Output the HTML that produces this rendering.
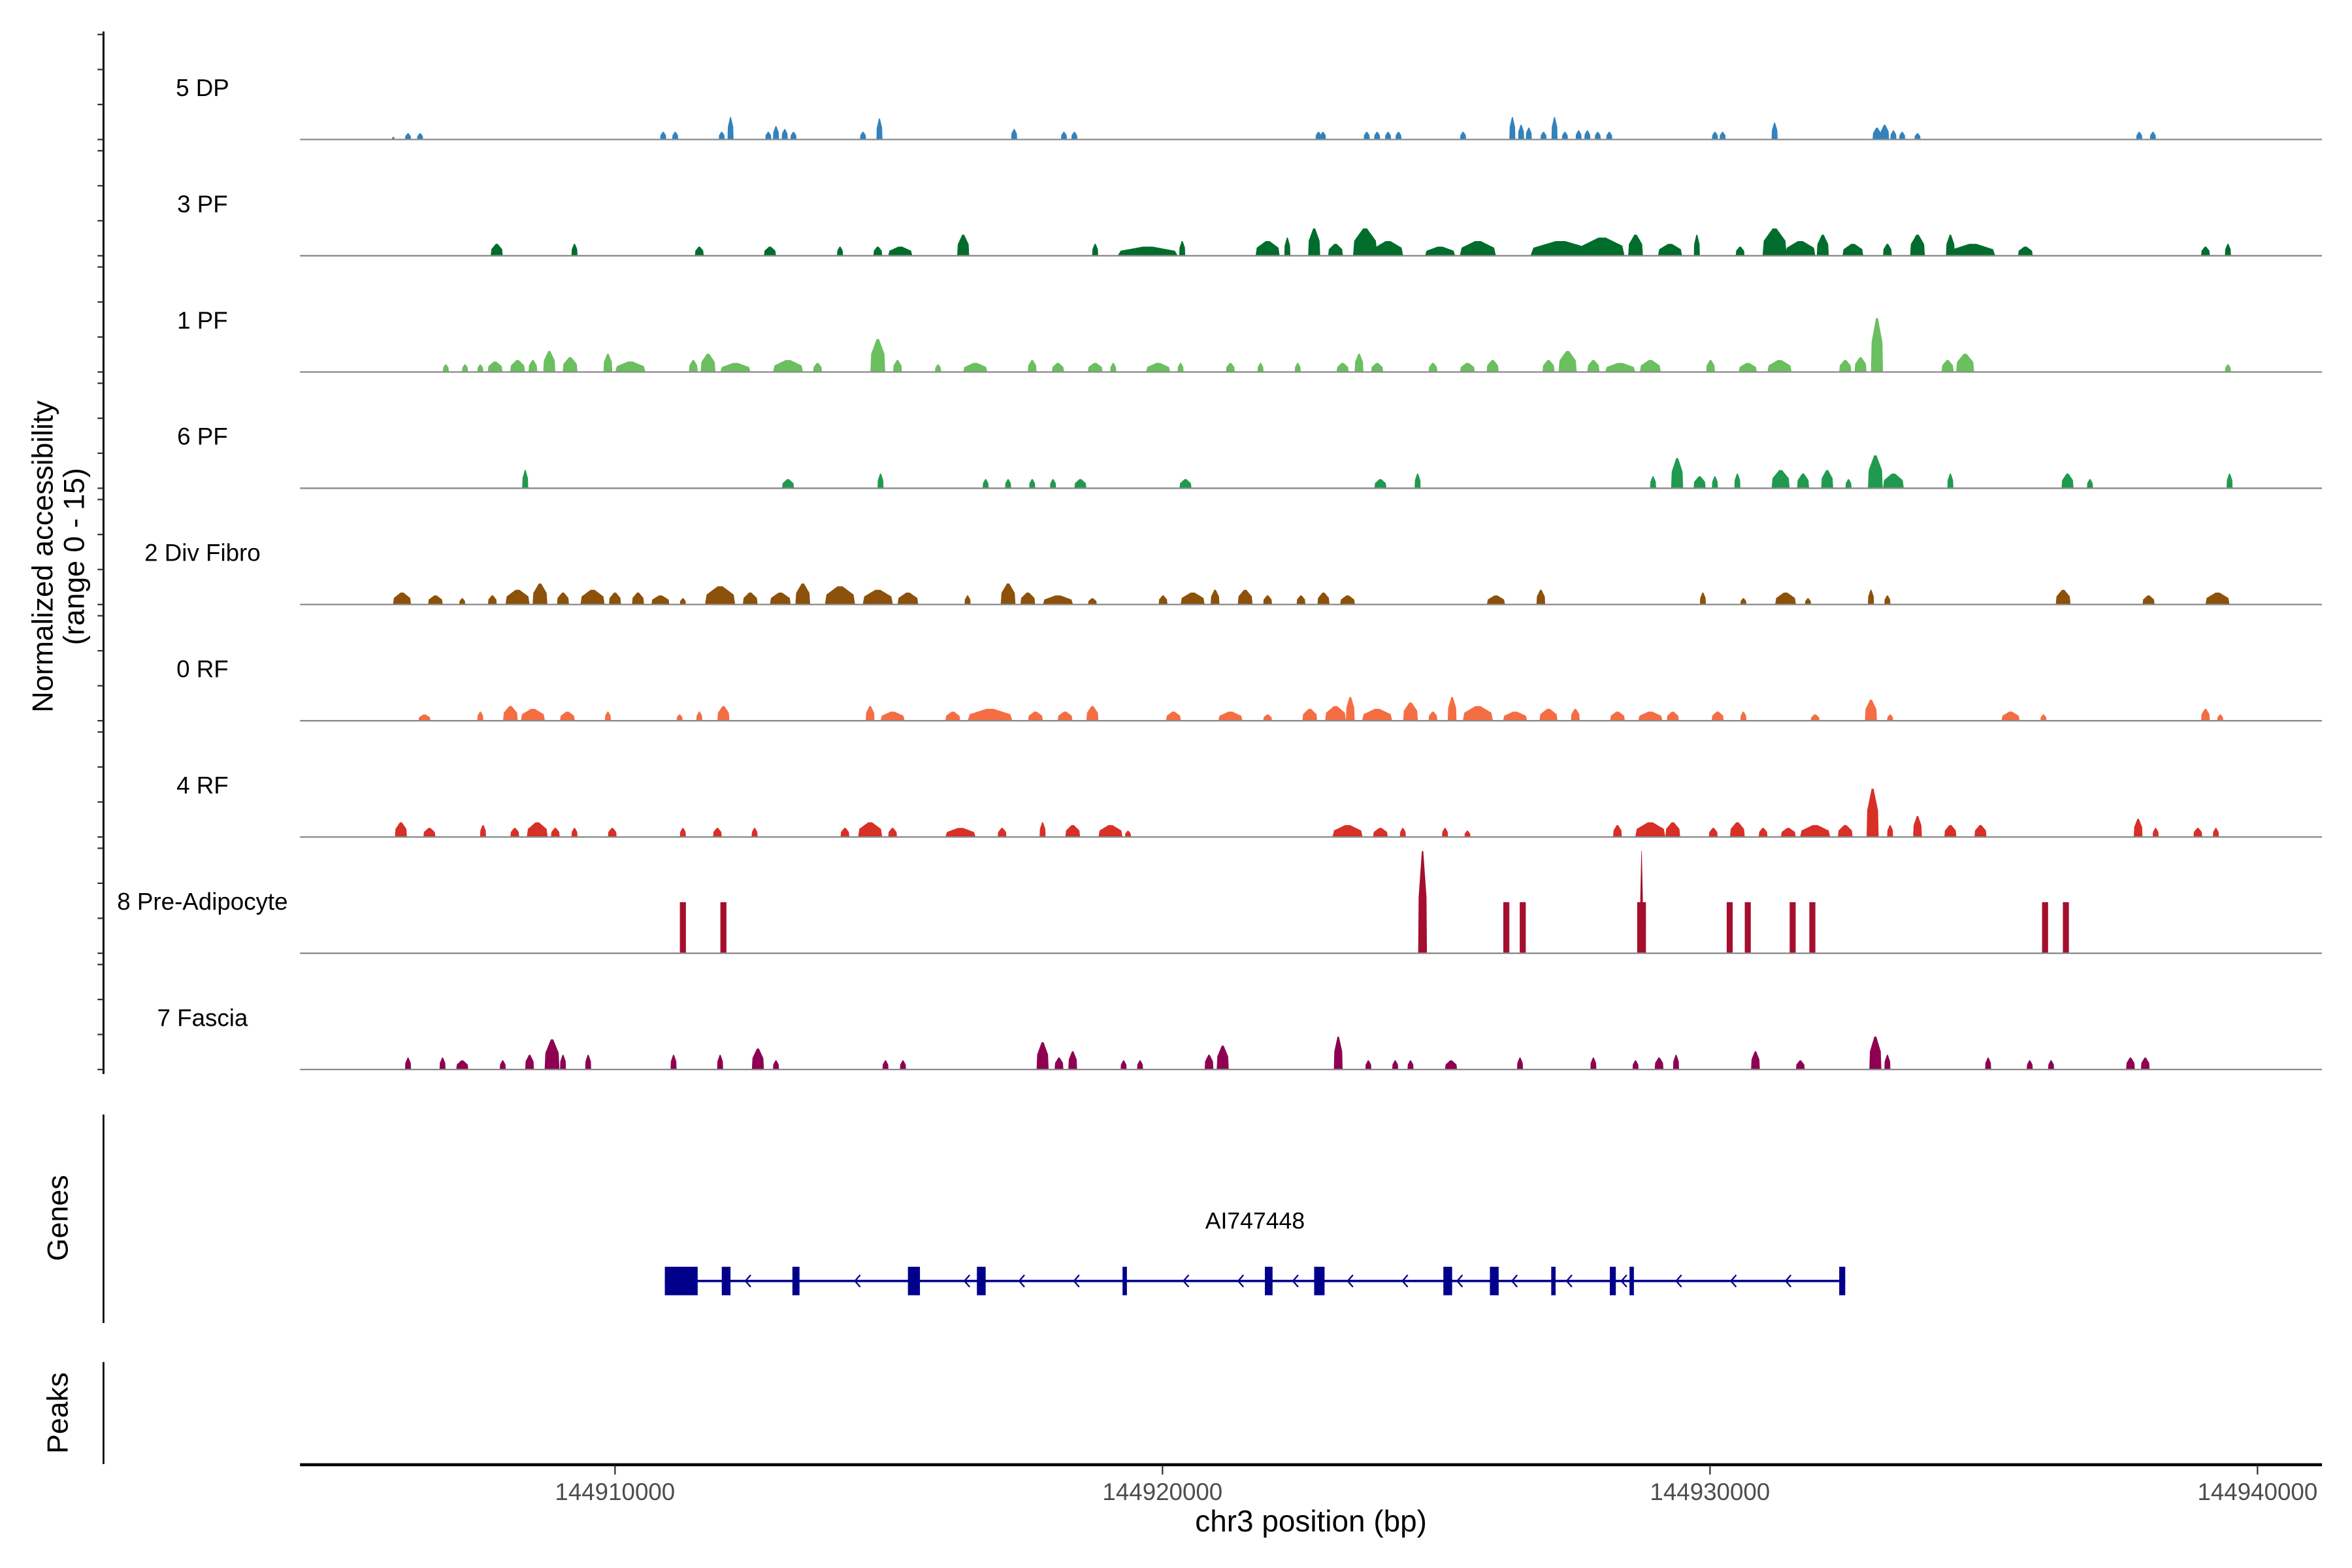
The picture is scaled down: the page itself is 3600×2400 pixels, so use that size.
<!DOCTYPE html>
<html><head><meta charset="utf-8">
<style>
html,body{margin:0;padding:0;background:#fff;}
svg{display:block;}
text{font-family:"Liberation Sans",Arial,sans-serif;}
</style></head>
<body>
<svg id="chart" xmlns="http://www.w3.org/2000/svg" width="3600" height="2400" viewBox="0 0 1568 1045.33" preserveAspectRatio="none">
  <rect x="0" y="0" width="1568" height="1046" fill="#fff"/>
  <g id="tracks"></g>
  <g id="yaxis"></g>
  <text transform="translate(35,371) rotate(-90)" text-anchor="middle" font-size="19.5" fill="#000">Normalized accessibility</text>
  <text transform="translate(56,371) rotate(-90)" text-anchor="middle" font-size="19.5" fill="#000">(range 0 - 15)</text>
  <line x1="69" y1="743" x2="69" y2="882" stroke="#000" stroke-width="1.2"/>
  <text transform="translate(45,812) rotate(-90)" text-anchor="middle" font-size="19.5" fill="#000">Genes</text>
  <line x1="69" y1="908" x2="69" y2="976" stroke="#000" stroke-width="1.2"/>
  <text transform="translate(45,942) rotate(-90)" text-anchor="middle" font-size="19.5" fill="#000">Peaks</text>
  <g id="genes"></g>
  <g id="xaxis"></g>
  <text x="874" y="1021" text-anchor="middle" font-size="20" fill="#000">chr3 position (bp)</text>
</svg>
<script>
// ---- data (positions in kb on chr3, values in normalized accessibility 0-15) ----
const trackNames = ["5 DP","3 PF","1 PF","6 PF","2 Div Fibro","0 RF","4 RF","8 Pre-Adipocyte","7 Fascia"];
const trackColors = ["#3182bd","#006d2c","#6abf5e","#1f9a4f","#8c510a","#f46d43","#d73027","#a50f2d","#8e0152"];

const pos5DP = [144905.95,144906.22,144906.44,144910.88,144911.10,144911.95,144912.11,144912.80,144912.94,144913.10,144913.26,144914.53,144914.83,144917.29,144918.20,144918.39,144922.85,144922.93,144923.73,144923.92,144924.12,144924.31,144925.49,144926.39,144926.55,144926.69,144926.96,144927.16,144927.35,144927.60,144927.76,144927.95,144928.16,144930.09,144930.23,144931.18,144933.05,144933.19,144933.35,144933.51,144933.79,144937.84,144938.09];
const wid5DP = [.05,.11,.11,.11,.11,.11,.11,.11,.11,.11,.11,.11,.11,.11,.11,.11,.11,.11,.11,.11,.11,.11,.11,.11,.11,.11,.11,.11,.11,.11,.11,.11,.11,.11,.11,.11,.16,.16,.11,.11,.11,.11,.11];
const val5DP = [0.4,0.9,0.9,1.1,1.1,1.1,3.2,1.1,1.9,1.5,1.1,1.1,3.0,1.5,1.1,1.1,1.1,1.1,1.1,1.1,1.1,1.1,1.1,3.2,2.1,1.7,1.1,3.2,1.1,1.3,1.3,1.1,1.1,1.1,1.1,2.4,1.7,2.1,1.3,1.1,0.9,1.1,1.1];

const pos3PF = [144907.84,144909.26,144911.54,144912.83,144914.11,144914.80,144915.21,144916.36,144918.77,144919.73,144920.36,144921.92,144922.28,144922.77,144923.16,144923.70,144924.12,144925.07,144925.76,144927.27,144928.03,144928.64,144929.27,144929.76,144930.55,144931.18,144931.65,144932.06,144932.61,144933.24,144933.79,144934.39,144934.80,144935.76,144939.05,144939.46];
const wid3PF = [.22,.11,.16,.22,.11,.16,.44,.22,.11,1.10,.11,.44,.11,.22,.27,.44,.55,.55,.66,1.10,.82,.27,.44,.11,.16,.44,.55,.22,.38,.16,.27,.16,.82,.27,.16,.11];
const val3PF = [1.7,1.7,1.3,1.3,1.3,1.3,1.3,3.0,1.7,1.3,2.1,2.1,2.6,3.9,1.7,3.9,2.1,1.3,2.1,2.1,2.6,3.0,1.7,3.0,1.3,3.9,2.1,3.0,1.7,1.7,3.0,3.0,1.7,1.3,1.3,1.7];

const pos1PF = [144906.91,144907.26,144907.54,144907.81,144908.22,144908.50,144908.80,144909.18,144909.87,144910.28,144911.43,144911.70,144912.20,144913.16,144913.70,144914.80,144915.16,144915.90,144916.58,144917.62,144918.09,144918.77,144919.10,144919.92,144920.33,144921.24,144921.79,144922.47,144923.29,144923.59,144923.92,144924.94,144925.57,144926.03,144927.05,144927.40,144927.87,144928.36,144928.91,144930.01,144930.69,144931.27,144932.47,144932.75,144933.05,144934.34,144934.66,144939.46];
const wid1PF = [.11,.11,.11,.27,.27,.16,.22,.27,.16,.55,.16,.27,.55,.55,.16,.27,.16,.11,.44,.16,.22,.27,.11,.44,.11,.16,.11,.11,.22,.16,.22,.16,.27,.22,.22,.33,.22,.55,.38,.16,.33,.44,.22,.22,.22,.22,.33,.11];
const val1PF = [1.1,1.1,1.1,1.5,1.7,1.7,3.0,2.1,2.6,1.5,1.7,2.6,1.3,1.7,1.3,4.7,1.7,1.1,1.3,1.7,1.3,1.3,1.3,1.3,1.3,1.3,1.3,1.3,1.3,2.6,1.3,1.3,1.3,1.7,1.7,3.0,1.7,1.3,1.7,1.7,1.3,1.7,1.7,2.1,7.7,1.7,2.6,1.1];

const pos6PF = [144908.36,144913.16,144914.85,144916.77,144917.18,144917.62,144918.00,144918.50,144920.42,144923.98,144924.66,144928.96,144929.40,144929.81,144930.09,144930.50,144931.29,144931.70,144932.14,144932.53,144933.02,144933.35,144934.39,144936.53,144936.94,144939.49];
const wid6PF = [.11,.22,.11,.11,.11,.11,.11,.22,.22,.22,.11,.11,.22,.22,.11,.11,.33,.22,.22,.11,.27,.38,.11,.22,.11,.11];
const val6PF = [2.6,1.3,2.1,1.3,1.3,1.3,1.3,1.3,1.3,1.3,2.1,1.7,4.3,1.7,1.7,2.1,2.6,2.1,2.6,1.3,4.7,2.1,2.1,2.1,1.3,2.1];

const posDiv = [144906.11,144906.72,144907.21,144907.76,144908.22,144908.63,144909.05,144909.59,144910.00,144910.42,144910.83,144911.24,144911.92,144912.47,144913.02,144913.43,144914.11,144914.80,144915.35,144916.44,144917.18,144917.54,144918.09,144918.72,144920.01,144920.55,144920.96,144921.51,144921.92,144922.53,144922.94,144923.38,144926.09,144926.91,144929.87,144930.61,144931.38,144931.79,144932.94,144933.24,144936.45,144938.01,144939.27];
const widDiv = [.33,.27,.11,.16,.44,.27,.22,.44,.22,.22,.33,.11,.55,.27,.38,.27,.55,.55,.38,.11,.27,.27,.55,.16,.16,.44,.16,.27,.16,.16,.22,.27,.33,.16,.11,.11,.38,.11,.11,.11,.27,.22,.44];
const valDiv = [1.7,1.3,0.9,1.3,2.1,3.0,1.7,2.1,1.7,1.7,1.3,0.9,2.6,1.7,1.7,3.0,2.6,2.1,1.7,1.3,3.0,1.7,1.3,0.9,1.3,1.7,2.1,2.1,1.3,1.3,1.7,1.3,1.3,2.1,1.7,0.9,1.7,0.9,2.1,1.3,2.1,1.3,1.7];

const pos0RF = [144906.52,144907.54,144908.09,144908.50,144909.13,144909.87,144911.18,144911.54,144911.98,144914.66,144915.07,144916.17,144916.85,144917.68,144918.22,144918.72,144920.20,144921.24,144921.92,144922.69,144923.16,144923.43,144923.92,144924.53,144924.94,144925.29,144925.76,144926.44,144927.05,144927.54,144928.31,144928.91,144929.32,144930.14,144930.61,144931.92,144932.94,144933.29,144935.49,144936.09,144939.05,144939.32];
const wid0RF = [.22,.11,.27,.44,.27,.11,.11,.11,.22,.16,.44,.27,.82,.27,.27,.22,.27,.44,.16,.27,.38,.16,.55,.27,.16,.16,.55,.44,.33,.16,.27,.44,.22,.22,.11,.16,.22,.11,.33,.11,.16,.11];
const val0RF = [0.9,1.3,2.1,1.7,1.3,1.3,0.9,1.3,2.1,2.1,1.3,1.3,1.7,1.3,1.3,2.1,1.3,1.3,0.9,1.7,2.1,3.4,1.7,2.6,1.3,3.4,2.1,1.3,1.7,1.7,1.3,1.3,1.3,1.3,1.3,0.9,3.0,0.9,1.3,0.9,1.7,0.9];

const pos4RF = [144906.09,144906.61,144907.59,144908.17,144908.58,144908.91,144909.26,144909.95,144911.24,144911.87,144912.55,144914.20,144914.66,144915.07,144916.31,144917.07,144917.81,144918.36,144919.05,144919.37,144923.38,144923.98,144924.39,144925.16,144925.57,144928.31,144928.91,144929.32,144930.06,144930.50,144930.97,144931.43,144931.92,144932.47,144932.97,144933.29,144933.79,144934.39,144934.94,144937.82,144938.14,144938.91,144939.24];
const wid4RF = [.22,.22,.11,.16,.38,.16,.11,.16,.11,.16,.11,.16,.44,.16,.55,.16,.11,.27,.44,.11,.55,.27,.11,.11,.11,.16,.55,.27,.16,.27,.16,.27,.55,.27,.22,.11,.16,.22,.22,.16,.11,.16,.11];
const val4RF = [2.1,1.3,1.7,1.3,2.1,1.3,1.3,1.3,1.3,1.3,1.3,1.3,2.1,1.3,1.3,1.3,2.1,1.7,1.7,0.9,1.7,1.3,1.3,1.3,0.9,1.7,2.1,2.1,1.3,2.1,1.3,1.3,1.7,1.7,6.9,1.7,3.0,1.7,1.7,2.6,1.3,1.3,1.3];

const posPre = [144911.24,144911.98,144924.75,144926.28,144926.58,144928.75,144928.75,144930.36,144930.69,144931.51,144931.87,144936.12,144936.50];
const widPre = [.11,.11,.16,.11,.11,.16,.05,.11,.11,.11,.11,.11,.11];
const valPre = [7.3,7.3,14.6,7.3,7.3,7.3,14.6,7.3,7.3,7.3,7.3,7.3,7.3];

const posFas = [144906.22,144906.85,144907.21,144907.95,144908.44,144908.85,144909.05,144909.51,144911.07,144911.92,144912.61,144912.94,144914.94,144915.26,144917.81,144918.11,144918.36,144919.29,144919.59,144920.85,144921.10,144923.21,144923.76,144924.25,144924.53,144925.27,144926.53,144927.87,144928.64,144929.07,144929.38,144930.83,144931.65,144933.02,144933.24,144935.08,144935.84,144936.23,144937.68,144937.95];
const widFas = [.11,.11,.22,.11,.16,.27,.11,.11,.11,.11,.22,.11,.11,.11,.22,.16,.16,.11,.11,.16,.22,.16,.11,.11,.11,.22,.11,.11,.11,.16,.11,.16,.16,.22,.11,.11,.11,.11,.16,.16];
const valFas = [1.7,1.7,1.3,1.3,2.1,4.3,2.1,2.1,2.1,2.1,3.0,1.3,1.3,1.3,3.9,1.7,2.6,1.3,1.3,2.1,3.4,4.7,1.3,1.3,1.3,1.3,1.7,1.7,1.3,1.7,2.1,2.6,1.3,4.7,2.1,1.7,1.3,1.3,1.7,1.7];

const trackPos = [pos5DP,pos3PF,pos1PF,pos6PF,posDiv,pos0RF,pos4RF,posPre,posFas];
const trackWid = [wid5DP,wid3PF,wid1PF,wid6PF,widDiv,wid0RF,wid4RF,widPre,widFas];
const trackVal = [val5DP,val3PF,val1PF,val6PF,valDiv,val0RF,val4RF,valPre,valFas];
const flatTrack = [false,false,false,false,false,false,false,true,false];

const xTicks = [144910,144920,144930,144940];
const xTickLabels = ["144910000","144920000","144930000","144940000"];

const geneName = "AI747448";
const geneStart = 144910.91;
const geneEnd = 144932.47;
const exonStarts = [144910.91,144911.95,144913.24,144915.35,144916.61,144919.27,144921.87,144922.77,144925.13,144925.98,144927.10,144928.17,144928.53,144932.36];
const exonEnds   = [144911.51,144912.11,144913.37,144915.57,144916.77,144919.35,144922.01,144922.96,144925.29,144926.14,144927.18,144928.28,144928.61,144932.47];

// ---- scales ----
const NS = "http://www.w3.org/2000/svg";
const X0 = 200, X1 = 1548;
function xScale(kb){ return 410 + (kb - 144910) * 36.5; }
const PANEL_H = 70, PANEL_GAP = 7.5, FIRST_TOP = 23;
const YMAX = 15;
function panelTop(i){ return FIRST_TOP + i * (PANEL_H + PANEL_GAP); }
function yScale(i, v){ return panelTop(i) + PANEL_H - (v / YMAX) * PANEL_H; }
function mk(tag, attrs){ const e = document.createElementNS(NS, tag); for (const k in attrs) e.setAttribute(k, attrs[k]); return e; }

const gT = document.getElementById('tracks');
const gY = document.getElementById('yaxis');

const yl = mk('line', {x1:69, y1:panelTop(0)-2, x2:69, y2:panelTop(8)+PANEL_H+3, stroke:'#000', 'stroke-width':1.3});


gY.appendChild(yl);
for (let i = 0; i < trackNames.length; i++) {
  for (const tv of [0,5,10,15]) {
    const y = yScale(i, tv);
    const t = mk('line', {x1:65, y1:y, x2:69, y2:y, stroke:'#333', 'stroke-width':1});
    
    
    gY.appendChild(t);
  }
}

for (let i = 0; i < trackNames.length; i++) {
  const g = mk('g', {});
  
  
  gT.appendChild(g);
  const lab = mk('text', {x:135, y:panelTop(i)+41, 'text-anchor':'middle', 'font-size':16, fill:'#000'});
  lab.textContent = trackNames[i];
  
  
  g.appendChild(lab);
  const base = yScale(i, 0);
  const P = trackPos[i], W = trackWid[i], V = trackVal[i];
  for (let j = 0; j < P.length; j++) {
    const xc = xScale(P[j]);
    const w = Math.max(W[j] * 36.5, 1.2);
    const x0 = xc - w/2, x1 = xc + w/2;
    const top = yScale(i, V[j]);
    const h = base - top;
    let pts;
    if (flatTrack[i] && V[j] < 10) {
      pts = [[x0,base],[x0,top],[x1,top],[x1,base]];
    } else {
      pts = [[x0,base],[x0+w*0.05,base-h*0.55],[xc-w*0.08,top],[xc+w*0.08,top],[x1-w*0.05,base-h*0.55],[x1,base]];
    }
    const p = mk('polygon', {points: pts.map(q=>q[0].toFixed(2)+','+q[1].toFixed(2)).join(' '), fill: trackColors[i]});
    
    
    g.appendChild(p);
  }
  const bl = mk('line', {x1:X0, y1:base, x2:X1, y2:base, stroke:'#8a8a8a', 'stroke-width':1});
  
  
  g.appendChild(bl);
}

// gene track
const gG = document.getElementById('genes');
const GY = 854;
const gl = mk('line', {x1:xScale(geneStart), y1:GY, x2:xScale(geneEnd), y2:GY, stroke:'#00008b', 'stroke-width':1.6});


gG.appendChild(gl);
for (let k = geneStart + 0.5; k < geneEnd; k += 1.0) {
  let inside = false;
  for (let e = 0; e < exonStarts.length; e++) if (k > exonStarts[e]-0.1 && k < exonEnds[e]+0.1) inside = true;
  if (inside) continue;
  const x = xScale(k);
  const ch = mk('polyline', {points:(x+2.5)+','+(GY-4)+' '+(x-1)+','+GY+' '+(x+2.5)+','+(GY+4), fill:'none', stroke:'#00008b', 'stroke-width':1});
  
  
  gG.appendChild(ch);
}
for (let e = 0; e < exonStarts.length; e++) {
  const x0 = xScale(exonStarts[e]), x1 = xScale(exonEnds[e]);
  const r = mk('rect', {x:x0, y:GY-9.5, width:Math.max(x1-x0,2.5), height:19, fill:'#00008b'});
  
  
  gG.appendChild(r);
}
const gn = mk('text', {x:(xScale(geneStart)+xScale(geneEnd))/2, y:819, 'text-anchor':'middle', 'font-size':15.5, fill:'#000'});
gn.textContent = geneName;


gG.appendChild(gn);

// x axis
const gX = document.getElementById('xaxis');
const xl = mk('line', {x1:X0, y1:976.5, x2:X1, y2:976.5, stroke:'#000', 'stroke-width':2});


gX.appendChild(xl);
for (let t = 0; t < xTicks.length; t++) {
  const x = xScale(xTicks[t]);
  const tk = mk('line', {x1:x, y1:977, x2:x, y2:983, stroke:'#333', 'stroke-width':1});
  
  
  gX.appendChild(tk);
  const tl = mk('text', {x:x, y:1000, 'text-anchor':'middle', 'font-size':16, fill:'#4d4d4d'});
  tl.textContent = xTickLabels[t];
  
  
  gX.appendChild(tl);
}
</script>
</body></html>
